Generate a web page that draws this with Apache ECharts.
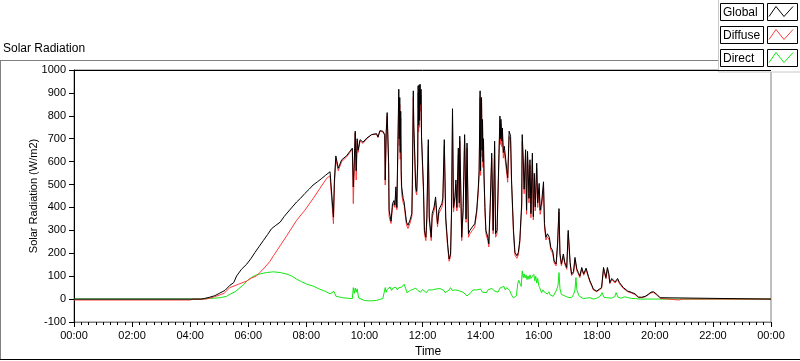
<!DOCTYPE html>
<html>
<head>
<meta charset="utf-8">
<script src="https://cdn.jsdelivr.net/npm/echarts@6/dist/echarts.min.js"></script>
<style>
html,body{margin:0;padding:0;background:#fff;}
#chart{width:800px;height:361px;}
</style>
</head>
<body>
<div id="chart"></div>
<script>
// ---- data (time in minutes since 00:00, value in W/m2) ----
const chartTitle = 'Solar Radiation';
const yAxisTitle = 'Solar Radiation (W/m2)';
const xAxisTitle = 'Time';
const seriesNames = ['Global', 'Diffuse', 'Direct'];
const seriesColors = ['#000000', '#ff3a3a', '#12e812'];

const globalData = [[0,0],[264,0],[270,3],[280,8],[291,15],[301,26],[312,38],[322,60],[330,72],[336,101],[346,130],[357,153],[366,178],[374,204],[382,228],[391,255],[400,282],[408,307],[417,322],[426,336],[434,360],[442,380],[451,402],[460,424],[468,440],[477,461],[486,480],[494,498],[503,512],[512,527],[520,541],[529,556],[533,562],[536,358],[538,520],[541,625],[546,571],[553,608],[563,625],[570,645],[575,659],[577,490],[579,600],[581,733],[583,560],[585,700],[587,650],[591,696],[597,685],[605,703],[615,718],[625,722],[628,708],[632,735],[638,733],[642,718],[643,520],[645,730],[646,770],[647,814],[650,600],[651,388],[655,340],[658,417],[661,430],[663,410],[665,490],[667,400],[671,916],[672,700],[673,880],[674,640],[675,820],[676,560],[677,490],[680,440],[682,424],[684,388],[687,336],[690,322],[694,344],[698,373],[699,500],[701,909],[702,760],[703,700],[706,490],[708,470],[710,593],[711,931],[712,760],[713,935],[714,780],[715,938],[716,850],[717,916],[718,711],[722,490],[724,300],[727,270],[729,358],[732,696],[734,358],[738,270],[740,373],[744,402],[747,446],[751,329],[754,390],[760,417],[762,440],[765,696],[768,358],[772,241],[775,175],[778,197],[780,388],[782,831],[784,400],[787,446],[789,520],[791,400],[794,659],[796,420],[797,711],[801,270],[804,400],[807,718],[810,350],[812,681],[815,285],[818,300],[823,315],[828,329],[832,388],[835,476],[837,560],[839,909],[840,560],[841,850],[842,880],[843,650],[844,784],[845,600],[846,700],[847,550],[849,400],[851,300],[855,270],[857,241],[860,420],[863,637],[866,300],[869,689],[871,285],[874,300],[878,637],[880,799],[881,700],[882,785],[884,690],[885,747],[887,640],[889,667],[892,608],[896,530],[899,733],[902,711],[904,520],[908,300],[911,204],[915,189],[918,204],[921,256],[925,420],[926,718],[928,620],[930,480],[933,652],[935,388],[937,645],[940,440],[942,608],[944,373],[947,637],[949,360],[951,549],[953,402],[956,593],[958,420],[961,505],[963,388],[966,420],[970,512],[972,330],[975,270],[978,285],[982,270],[985,226],[989,210],[992,167],[996,153],[999,241],[1002,395],[1004,200],[1007,153],[1011,197],[1014,160],[1018,138],[1021,300],[1025,160],[1028,109],[1032,120],[1035,182],[1039,130],[1042,116],[1045,100],[1049,138],[1053,110],[1058,135],[1063,98],[1066,79],[1070,60],[1073,43],[1076,50],[1080,35],[1085,43],[1090,50],[1094,138],[1096,120],[1099,94],[1102,138],[1105,110],[1107,72],[1111,90],[1114,87],[1118,75],[1121,80],[1123,90],[1127,72],[1130,70],[1135,50],[1138,42],[1144,35],[1147,38],[1151,30],[1155,35],[1159,23],[1166,9],[1173,8],[1180,12],[1186,20],[1192,30],[1197,32],[1200,27],[1204,21],[1211,6],[1214,0],[1440,0]];

const diffuseData = [[0,-4],[240,-4],[246,0],[273,0],[290,10],[310,25],[322,50],[340,65],[357,79],[367,92],[377,101],[391,131],[405,165],[412,189],[426,233],[440,278],[460,344],[477,388],[494,439],[508,483],[522,527],[529,538],[533,545],[536,329],[538,500],[541,610],[546,560],[553,600],[563,620],[570,640],[575,655],[577,417],[579,560],[581,725],[583,520],[585,690],[587,640],[591,690],[597,680],[605,700],[615,718],[625,720],[628,705],[632,733],[638,730],[642,715],[643,498],[645,720],[646,760],[647,800],[650,580],[651,360],[655,330],[658,400],[661,420],[663,400],[665,470],[667,390],[671,880],[672,670],[673,850],[674,610],[675,790],[676,530],[677,460],[680,420],[682,410],[684,375],[687,322],[690,308],[694,330],[698,360],[699,480],[701,880],[702,730],[703,680],[706,470],[708,455],[710,570],[711,900],[712,730],[713,905],[714,750],[715,910],[716,820],[717,890],[718,690],[722,470],[724,285],[727,255],[729,340],[732,670],[734,340],[738,255],[740,355],[744,385],[747,430],[751,315],[754,375],[760,400],[762,420],[765,670],[768,340],[772,225],[775,165],[778,185],[780,370],[782,800],[784,380],[787,430],[789,500],[791,385],[794,630],[796,400],[797,690],[801,255],[804,385],[807,700],[810,335],[812,660],[815,270],[818,285],[823,300],[828,315],[832,375],[835,460],[837,540],[839,880],[840,540],[841,820],[842,855],[843,620],[844,760],[845,575],[846,675],[847,530],[849,385],[851,285],[855,255],[857,228],[860,400],[863,615],[866,285],[869,665],[871,270],[874,285],[878,615],[880,780],[881,675],[882,765],[884,665],[885,725],[887,615],[889,645],[892,585],[896,510],[899,710],[902,690],[904,500],[908,285],[911,192],[915,178],[918,192],[921,245],[925,400],[926,690],[928,595],[930,460],[933,625],[935,370],[937,620],[940,420],[942,585],[944,355],[947,610],[949,345],[951,525],[953,385],[956,570],[958,400],[961,485],[963,370],[966,400],[970,490],[972,315],[975,258],[978,272],[982,258],[985,215],[989,200],[992,158],[996,145],[999,230],[1002,380],[1004,190],[1007,145],[1011,188],[1014,152],[1018,130],[1021,285],[1025,152],[1028,103],[1032,113],[1035,172],[1039,123],[1042,110],[1045,94],[1049,130],[1053,104],[1058,128],[1063,93],[1066,74],[1070,56],[1073,40],[1076,46],[1080,32],[1085,40],[1090,47],[1094,130],[1096,113],[1099,88],[1102,130],[1105,104],[1107,67],[1111,85],[1114,82],[1118,70],[1121,75],[1123,85],[1127,67],[1130,65],[1135,46],[1138,39],[1144,32],[1147,35],[1151,27],[1155,32],[1159,20],[1166,7],[1173,6],[1180,10],[1186,18],[1192,27],[1197,29],[1200,24],[1204,18],[1211,3],[1214,-4],[1250,-4],[1256,0],[1440,0]];

const directData = [[0,0],[262,0],[270,2],[290,4],[302,6],[315,12],[322,21],[333,32],[339,43],[350,62],[357,79],[367,95],[377,106],[391,113],[398,116],[412,119],[426,116],[440,109],[450,100],[460,87],[470,76],[481,65],[494,57],[508,43],[520,33],[529,23],[533,28],[537,34],[541,13],[550,8],[555,6],[568,3],[575,2],[577,50],[579,25],[581,48],[583,30],[585,45],[588,5],[591,-2],[600,-6],[612,-8],[625,-6],[632,-1],[638,2],[641,6],[643,50],[645,30],[647,42],[650,40],[653,53],[656,38],[659,48],[662,42],[665,52],[668,40],[671,50],[674,45],[677,52],[680,60],[682,65],[685,48],[688,28],[692,21],[695,38],[698,46],[700,42],[703,40],[706,48],[710,38],[713,44],[716,30],[720,42],[724,35],[728,28],[732,40],[736,32],[740,40],[744,35],[748,44],[752,38],[756,46],[760,50],[764,38],[767,28],[771,22],[775,40],[778,50],[781,38],[785,45],[789,40],[793,48],[797,35],[800,42],[804,30],[808,22],[812,14],[816,18],[820,28],[824,40],[828,46],[832,40],[836,36],[840,44],[844,30],[848,38],[852,28],[856,42],[860,35],[864,46],[868,36],[872,42],[876,30],[880,48],[884,44],[888,56],[891,40],[894,50],[897,57],[900,38],[904,18],[908,5],[911,2],[914,15],[917,70],[919,82],[922,65],[924,55],[926,123],[928,94],[930,110],[932,92],[934,105],[936,85],[938,101],[940,86],[942,106],[944,90],[946,98],[948,84],[950,108],[952,80],[954,100],[956,70],[958,90],[960,60],[962,50],[964,58],[966,28],[969,40],[972,30],[975,36],[978,22],[981,32],[984,18],[987,22],[990,12],[994,20],[997,40],[1000,60],[1002,116],[1004,45],[1007,20],[1010,26],[1013,15],[1017,18],[1020,8],[1024,14],[1028,6],[1032,20],[1035,40],[1037,94],[1039,40],[1043,15],[1047,8],[1052,2],[1058,4],[1066,6],[1073,0],[1080,4],[1087,12],[1091,28],[1095,8],[1101,6],[1110,4],[1117,10],[1120,28],[1124,8],[1130,4],[1138,10],[1145,6],[1152,3],[1160,2],[1170,0],[1440,0]];

const xMin = 0, xMax = 1440, xStep = 120;
const yMin = -100, yMax = 1000, yStep = 100;

// ---- chart ----
const FONT = 'Liberation Sans';
const chart = echarts.init(document.getElementById('chart'), null, {renderer: 'canvas'});

function timeLabel(v) {
  const h = Math.floor(v / 60) % 24;
  return (h < 10 ? '0' : '') + h + ':00';
}

const gridL = 74, gridR = 29, gridT = 70, gridB = 39;

const legendGraphics = [];
legendGraphics.push({type: 'rect', shape: {x: 718.5, y: -1, width: 83, height: 73}, style: {fill: '#fff', stroke: '#c8c8c8', lineWidth: 1}, z: 10});
seriesNames.forEach((name, i) => {
  const y0 = 3.5 + 23 * i;
  legendGraphics.push({type: 'rect', shape: {x: 720.5, y: y0, width: 43, height: 17}, style: {fill: '#fff', stroke: '#000', lineWidth: 1}, z: 11});
  legendGraphics.push({type: 'text', x: 723, y: y0 + 9, style: {text: name, fill: '#000', font: '12px ' + FONT, textVerticalAlign: 'middle', verticalAlign: 'middle'}, z: 12});
  legendGraphics.push({type: 'rect', shape: {x: 767.5, y: y0, width: 30, height: 17}, style: {fill: '#fff', stroke: '#000', lineWidth: 1}, z: 11});
  legendGraphics.push({type: 'polyline', shape: {points: [[769, y0 + 13], [776, y0 + 3], [784, y0 + 13], [793, y0 + 3]]}, style: {stroke: seriesColors[i], lineWidth: 1, fill: null}, z: 12});
});

const option = {
  animation: false,
  backgroundColor: '#fff',
  title: [{
    text: chartTitle, left: 3, top: 43, padding: 0,
    textStyle: {fontFamily: FONT, fontSize: 12, fontWeight: 'normal', color: '#000'}
  }, {
    text: xAxisTitle, left: 415, top: 346, padding: 0,
    textStyle: {fontFamily: FONT, fontSize: 12, fontWeight: 'normal', color: '#000'}
  }],
  grid: {left: gridL, right: gridR, top: gridT, bottom: gridB, show: true, borderColor: '#808080', borderWidth: 1},
  xAxis: {
    type: 'value', min: xMin, max: xMax, interval: xStep, position: 'bottom',
    axisLine: {show: true, onZero: false, lineStyle: {color: '#808080', width: 1}},
    axisTick: {show: true, length: 5, lineStyle: {color: '#000', width: 1}},
    minorTick: {show: true, splitNumber: 8, length: 3, lineStyle: {color: '#000', width: 1}},
    axisLabel: {formatter: timeLabel, fontFamily: FONT, fontSize: 11, color: '#000', margin: 8},
    splitLine: {show: false}
  },
  yAxis: {
    type: 'value', min: yMin, max: yMax, interval: yStep,
    name: yAxisTitle, nameLocation: 'middle', nameGap: 35, nameMoveOverlap: false,
    nameTextStyle: {fontFamily: FONT, fontSize: 11, color: '#000'},
    axisLine: {show: true, onZero: false, lineStyle: {color: '#000', width: 1}},
    axisTick: {show: true, length: 5, lineStyle: {color: '#000'}},
    axisLabel: {formatter: v => String(v), fontFamily: FONT, fontSize: 11, color: '#000', margin: 8},
    splitLine: {show: false}
  },
  graphic: [
    {type: 'line', shape: {x1: 0, y1: 60.5, x2: 718, y2: 60.5}, style: {stroke: '#808080', lineWidth: 1}},
    {type: 'line', shape: {x1: 0.5, y1: 60, x2: 0.5, y2: 360}, style: {stroke: '#808080', lineWidth: 1}},
    {type: 'line', shape: {x1: 0, y1: 359.5, x2: 800, y2: 359.5}, style: {stroke: '#000', lineWidth: 1}},
    {type: 'line', shape: {x1: gridL, y1: gridT + 0.5, x2: 800 - gridR, y2: gridT + 0.5}, style: {stroke: '#000', lineWidth: 1}, z: 20}
  ].concat(legendGraphics),
  series: [
    {name: seriesNames[2], type: 'line', data: directData, showSymbol: false, symbol: 'none', lineStyle: {color: seriesColors[2], width: 1}, itemStyle: {color: seriesColors[2]}},
    {name: seriesNames[1], type: 'line', data: diffuseData, showSymbol: false, symbol: 'none', lineStyle: {color: seriesColors[1], width: 1}, itemStyle: {color: seriesColors[1]}},
    {name: seriesNames[0], type: 'line', data: globalData, showSymbol: false, symbol: 'none', lineStyle: {color: seriesColors[0], width: 1}, itemStyle: {color: seriesColors[0]}}
  ]
};
chart.setOption(option);
</script>
</body>
</html>
